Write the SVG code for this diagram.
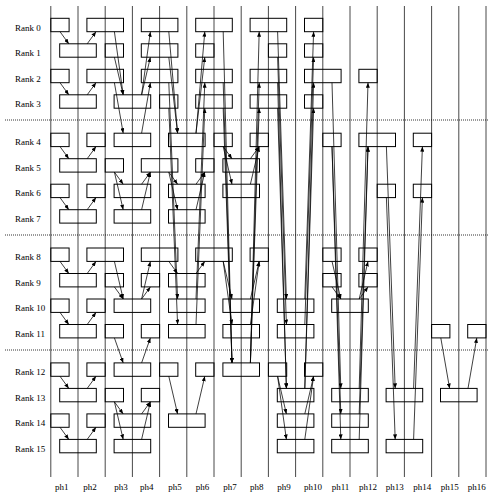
<svg xmlns="http://www.w3.org/2000/svg" width="489" height="496" viewBox="0 0 489 496">
<style>
.ph{stroke:#333;stroke-width:0.9}
.dot{stroke:#000;stroke-width:0.8;stroke-dasharray:1 1}
.b{fill:none;stroke:#000;stroke-width:1}
.a{stroke:#000;stroke-width:0.75;marker-end:url(#ah)}
text{font-family:"Liberation Serif","Times New Roman",serif;font-size:9px;fill:#000}
</style>
<defs>
<marker id="ah" markerUnits="userSpaceOnUse" markerWidth="5" markerHeight="4" refX="5" refY="2" orient="auto">
<path d="M0,0 L5,2 L0,4 z" fill="#000"/>
</marker>
</defs>
<rect width="489" height="496" fill="#fff"/>
<g id="phase-lines">
<line class="ph" x1="50.8" y1="6" x2="50.8" y2="477"/>
<line class="ph" x1="78" y1="6" x2="78" y2="477"/>
<line class="ph" x1="105.2" y1="6" x2="105.2" y2="477"/>
<line class="ph" x1="132.4" y1="6" x2="132.4" y2="477"/>
<line class="ph" x1="159.6" y1="6" x2="159.6" y2="477"/>
<line class="ph" x1="186.8" y1="6" x2="186.8" y2="477"/>
<line class="ph" x1="214" y1="6" x2="214" y2="477"/>
<line class="ph" x1="241.2" y1="6" x2="241.2" y2="477"/>
<line class="ph" x1="268.4" y1="6" x2="268.4" y2="477"/>
<line class="ph" x1="295.6" y1="6" x2="295.6" y2="477"/>
<line class="ph" x1="322.8" y1="6" x2="322.8" y2="477"/>
<line class="ph" x1="350" y1="6" x2="350" y2="477"/>
<line class="ph" x1="377.2" y1="6" x2="377.2" y2="477"/>
<line class="ph" x1="404.4" y1="6" x2="404.4" y2="477"/>
<line class="ph" x1="431.6" y1="6" x2="431.6" y2="477"/>
<line class="ph" x1="458.8" y1="6" x2="458.8" y2="477"/>
<line class="ph" x1="486" y1="6" x2="486" y2="477"/>
<line class="dot" x1="5" y1="120" x2="489" y2="120"/>
<line class="dot" x1="5" y1="235" x2="489" y2="235"/>
<line class="dot" x1="5" y1="350" x2="489" y2="350"/>
</g>
<g id="phase-labels">
<text x="55" y="490">ph1</text>
<text x="83.3" y="490">ph2</text>
<text x="114.3" y="490">ph3</text>
<text x="140" y="490">ph4</text>
<text x="168.3" y="490">ph5</text>
<text x="195.7" y="490">ph6</text>
<text x="223.3" y="490">ph7</text>
<text x="250" y="490">ph8</text>
<text x="277.3" y="490">ph9</text>
<text x="304" y="490">ph10</text>
<text x="331.7" y="490">ph11</text>
<text x="359" y="490">ph12</text>
<text x="385.7" y="490">ph13</text>
<text x="413.3" y="490">ph14</text>
<text x="440.7" y="490">ph15</text>
<text x="467.7" y="490">ph16</text>
</g>
<g id="rank0"><text x="15" y="30.5">Rank 0</text>
<rect class="b" x="50.8" y="18.3" width="18.3" height="13.4"/><rect class="b" x="86.9" y="18.3" width="36.6" height="13.4"/><rect class="b" x="141.3" y="18.3" width="36.6" height="13.4"/><rect class="b" x="195.7" y="18.3" width="36.6" height="13.4"/><rect class="b" x="250.1" y="18.3" width="36.6" height="13.4"/><rect class="b" x="304.5" y="18.3" width="18.3" height="13.4"/></g>
<g id="rank1"><text x="15" y="56">Rank 1</text>
<rect class="b" x="59.7" y="43.8" width="36.6" height="13.4"/><rect class="b" x="105.2" y="43.8" width="18.3" height="13.4"/><rect class="b" x="141.3" y="43.8" width="36.6" height="13.4"/><rect class="b" x="195.7" y="43.8" width="18.3" height="13.4"/><rect class="b" x="268.4" y="43.8" width="18.3" height="13.4"/><rect class="b" x="304.5" y="43.8" width="18.3" height="13.4"/></g>
<g id="rank2"><text x="15" y="81.5">Rank 2</text>
<rect class="b" x="50.8" y="69.3" width="18.3" height="13.4"/><rect class="b" x="86.9" y="69.3" width="36.6" height="13.4"/><rect class="b" x="141.3" y="69.3" width="36.6" height="13.4"/><rect class="b" x="195.7" y="69.3" width="36.6" height="13.4"/><rect class="b" x="250.1" y="69.3" width="36.6" height="13.4"/><rect class="b" x="304.5" y="69.3" width="36.6" height="13.4"/><rect class="b" x="358.9" y="69.3" width="18.3" height="13.4"/></g>
<g id="rank3"><text x="15" y="107">Rank 3</text>
<rect class="b" x="59.7" y="94.8" width="36.6" height="13.4"/><rect class="b" x="114.1" y="94.8" width="36.6" height="13.4"/><rect class="b" x="159.6" y="94.8" width="18.3" height="13.4"/><rect class="b" x="195.7" y="94.8" width="36.6" height="13.4"/><rect class="b" x="250.1" y="94.8" width="36.6" height="13.4"/><rect class="b" x="304.5" y="94.8" width="18.3" height="13.4"/></g>
<g id="rank4"><text x="15" y="145.4">Rank 4</text>
<rect class="b" x="50.8" y="133.2" width="18.3" height="13.4"/><rect class="b" x="86.9" y="133.2" width="18.3" height="13.4"/><rect class="b" x="114.1" y="133.2" width="36.6" height="13.4"/><rect class="b" x="168.5" y="133.2" width="36.6" height="13.4"/><rect class="b" x="214" y="133.2" width="18.3" height="13.4"/><rect class="b" x="250.1" y="133.2" width="18.3" height="13.4"/><rect class="b" x="322.8" y="133.2" width="18.3" height="13.4"/><rect class="b" x="358.9" y="133.2" width="36.6" height="13.4"/><rect class="b" x="413.3" y="133.2" width="18.3" height="13.4"/></g>
<g id="rank5"><text x="15" y="170.9">Rank 5</text>
<rect class="b" x="59.7" y="158.7" width="36.6" height="13.4"/><rect class="b" x="105.2" y="158.7" width="18.3" height="13.4"/><rect class="b" x="141.3" y="158.7" width="36.6" height="13.4"/><rect class="b" x="195.7" y="158.7" width="18.3" height="13.4"/><rect class="b" x="222.9" y="158.7" width="36.6" height="13.4"/></g>
<g id="rank6"><text x="15" y="196.4">Rank 6</text>
<rect class="b" x="50.8" y="184.2" width="18.3" height="13.4"/><rect class="b" x="86.9" y="184.2" width="18.3" height="13.4"/><rect class="b" x="114.1" y="184.2" width="36.6" height="13.4"/><rect class="b" x="168.5" y="184.2" width="36.6" height="13.4"/><rect class="b" x="222.9" y="184.2" width="36.6" height="13.4"/><rect class="b" x="377.2" y="184.2" width="18.3" height="13.4"/><rect class="b" x="413.3" y="184.2" width="18.3" height="13.4"/></g>
<g id="rank7"><text x="15" y="221.9">Rank 7</text>
<rect class="b" x="59.7" y="209.7" width="36.6" height="13.4"/><rect class="b" x="114.1" y="209.7" width="36.6" height="13.4"/><rect class="b" x="168.5" y="209.7" width="36.6" height="13.4"/></g>
<g id="rank8"><text x="15" y="260.2">Rank 8</text>
<rect class="b" x="50.8" y="248" width="18.3" height="13.4"/><rect class="b" x="86.9" y="248" width="36.6" height="13.4"/><rect class="b" x="141.3" y="248" width="36.6" height="13.4"/><rect class="b" x="195.7" y="248" width="36.6" height="13.4"/><rect class="b" x="250.1" y="248" width="18.3" height="13.4"/><rect class="b" x="322.8" y="248" width="18.3" height="13.4"/><rect class="b" x="358.9" y="248" width="18.3" height="13.4"/></g>
<g id="rank9"><text x="15" y="285.7">Rank 9</text>
<rect class="b" x="59.7" y="273.5" width="36.6" height="13.4"/><rect class="b" x="105.2" y="273.5" width="18.3" height="13.4"/><rect class="b" x="141.3" y="273.5" width="18.3" height="13.4"/><rect class="b" x="168.5" y="273.5" width="36.6" height="13.4"/><rect class="b" x="322.8" y="273.5" width="18.3" height="13.4"/><rect class="b" x="358.9" y="273.5" width="18.3" height="13.4"/></g>
<g id="rank10"><text x="15" y="311.2">Rank 10</text>
<rect class="b" x="50.8" y="299" width="18.3" height="13.4"/><rect class="b" x="86.9" y="299" width="18.3" height="13.4"/><rect class="b" x="114.1" y="299" width="36.6" height="13.4"/><rect class="b" x="168.5" y="299" width="36.6" height="13.4"/><rect class="b" x="222.9" y="299" width="36.6" height="13.4"/><rect class="b" x="277.3" y="299" width="36.6" height="13.4"/><rect class="b" x="331.7" y="299" width="36.6" height="13.4"/></g>
<g id="rank11"><text x="15" y="336.7">Rank 11</text>
<rect class="b" x="59.7" y="324.5" width="36.6" height="13.4"/><rect class="b" x="105.2" y="324.5" width="18.3" height="13.4"/><rect class="b" x="141.3" y="324.5" width="18.3" height="13.4"/><rect class="b" x="168.5" y="324.5" width="36.6" height="13.4"/><rect class="b" x="222.9" y="324.5" width="36.6" height="13.4"/><rect class="b" x="277.3" y="324.5" width="36.6" height="13.4"/><rect class="b" x="431.6" y="324.5" width="18.3" height="13.4"/><rect class="b" x="467.7" y="324.5" width="18.3" height="13.4"/></g>
<g id="rank12"><text x="15" y="375.1">Rank 12</text>
<rect class="b" x="50.8" y="362.9" width="18.3" height="13.4"/><rect class="b" x="86.9" y="362.9" width="18.3" height="13.4"/><rect class="b" x="114.1" y="362.9" width="36.6" height="13.4"/><rect class="b" x="159.6" y="362.9" width="18.3" height="13.4"/><rect class="b" x="195.7" y="362.9" width="18.3" height="13.4"/><rect class="b" x="222.9" y="362.9" width="36.6" height="13.4"/><rect class="b" x="268.4" y="362.9" width="18.3" height="13.4"/><rect class="b" x="304.5" y="362.9" width="18.3" height="13.4"/></g>
<g id="rank13"><text x="15" y="400.6">Rank 13</text>
<rect class="b" x="59.7" y="388.4" width="36.6" height="13.4"/><rect class="b" x="105.2" y="388.4" width="18.3" height="13.4"/><rect class="b" x="141.3" y="388.4" width="18.3" height="13.4"/><rect class="b" x="277.3" y="388.4" width="36.6" height="13.4"/><rect class="b" x="331.7" y="388.4" width="36.6" height="13.4"/><rect class="b" x="386.1" y="388.4" width="36.6" height="13.4"/><rect class="b" x="440.5" y="388.4" width="36.6" height="13.4"/></g>
<g id="rank14"><text x="15" y="426.1">Rank 14</text>
<rect class="b" x="50.8" y="413.9" width="18.3" height="13.4"/><rect class="b" x="86.9" y="413.9" width="18.3" height="13.4"/><rect class="b" x="114.1" y="413.9" width="36.6" height="13.4"/><rect class="b" x="168.5" y="413.9" width="36.6" height="13.4"/><rect class="b" x="277.3" y="413.9" width="36.6" height="13.4"/><rect class="b" x="331.7" y="413.9" width="36.6" height="13.4"/></g>
<g id="rank15"><text x="15" y="451.6">Rank 15</text>
<rect class="b" x="59.7" y="439.4" width="36.6" height="13.4"/><rect class="b" x="114.1" y="439.4" width="36.6" height="13.4"/><rect class="b" x="277.3" y="439.4" width="36.6" height="13.4"/><rect class="b" x="331.7" y="439.4" width="36.6" height="13.4"/><rect class="b" x="386.1" y="439.4" width="36.6" height="13.4"/></g>
<g id="connectors">
<line class="a" x1="60" y1="31.7" x2="68.8" y2="43.8"/>
<line class="a" x1="60" y1="82.7" x2="68.8" y2="94.8"/>
<line class="a" x1="60" y1="146.6" x2="68.8" y2="158.7"/>
<line class="a" x1="60" y1="197.6" x2="68.8" y2="209.7"/>
<line class="a" x1="60" y1="261.4" x2="68.8" y2="273.5"/>
<line class="a" x1="60" y1="312.4" x2="68.8" y2="324.5"/>
<line class="a" x1="60" y1="376.3" x2="68.8" y2="388.4"/>
<line class="a" x1="60" y1="427.3" x2="68.8" y2="439.4"/>
<line class="a" x1="87.2" y1="43.8" x2="96" y2="31.7"/>
<line class="a" x1="87.2" y1="94.8" x2="96" y2="82.7"/>
<line class="a" x1="87.2" y1="158.7" x2="96" y2="146.6"/>
<line class="a" x1="87.2" y1="209.7" x2="96" y2="197.6"/>
<line class="a" x1="87.2" y1="273.5" x2="96" y2="261.4"/>
<line class="a" x1="87.2" y1="324.5" x2="96" y2="312.4"/>
<line class="a" x1="87.2" y1="388.4" x2="96" y2="376.3"/>
<line class="a" x1="87.2" y1="439.4" x2="96" y2="427.3"/>
<line class="a" x1="114.4" y1="31.7" x2="123.2" y2="94.8"/>
<line class="a" x1="114.4" y1="57.2" x2="123.2" y2="94.8"/>
<line class="a" x1="114.4" y1="82.7" x2="123.2" y2="133.2"/>
<line class="a" x1="114.4" y1="172.1" x2="123.2" y2="184.2"/>
<line class="a" x1="114.4" y1="172.1" x2="123.2" y2="209.7"/>
<line class="a" x1="114.4" y1="261.4" x2="123.2" y2="299"/>
<line class="a" x1="114.4" y1="286.9" x2="123.2" y2="299"/>
<line class="a" x1="114.4" y1="337.9" x2="123.2" y2="362.9"/>
<line class="a" x1="114.4" y1="401.8" x2="123.2" y2="413.9"/>
<line class="a" x1="114.4" y1="401.8" x2="123.2" y2="439.4"/>
<line class="a" x1="141.6" y1="94.8" x2="150.4" y2="31.7"/>
<line class="a" x1="141.6" y1="94.8" x2="150.4" y2="57.2"/>
<line class="a" x1="141.6" y1="133.2" x2="150.4" y2="82.7"/>
<line class="a" x1="141.6" y1="184.2" x2="150.4" y2="172.1"/>
<line class="a" x1="141.6" y1="209.7" x2="150.4" y2="172.1"/>
<line class="a" x1="141.6" y1="299" x2="150.4" y2="261.4"/>
<line class="a" x1="141.6" y1="299" x2="150.4" y2="286.9"/>
<line class="a" x1="141.6" y1="362.9" x2="150.4" y2="337.9"/>
<line class="a" x1="141.6" y1="413.9" x2="150.4" y2="401.8"/>
<line class="a" x1="141.6" y1="439.4" x2="150.4" y2="401.8"/>
<line class="a" x1="168.8" y1="31.7" x2="177.6" y2="133.2"/>
<line class="a" x1="168.8" y1="57.2" x2="177.6" y2="133.2"/>
<line class="a" x1="168.8" y1="82.7" x2="177.6" y2="299"/>
<line class="a" x1="168.8" y1="108.2" x2="177.6" y2="324.5"/>
<line class="a" x1="168.8" y1="172.1" x2="177.6" y2="184.2"/>
<line class="a" x1="168.8" y1="172.1" x2="177.6" y2="209.7"/>
<line class="a" x1="168.8" y1="261.4" x2="177.6" y2="273.5"/>
<line class="a" x1="168.8" y1="376.3" x2="177.6" y2="413.9"/>
<line class="a" x1="196" y1="133.2" x2="204.8" y2="31.7"/>
<line class="a" x1="196" y1="133.2" x2="204.8" y2="57.2"/>
<line class="a" x1="196" y1="299" x2="204.8" y2="82.7"/>
<line class="a" x1="196" y1="324.5" x2="204.8" y2="108.2"/>
<line class="a" x1="196" y1="184.2" x2="204.8" y2="172.1"/>
<line class="a" x1="196" y1="209.7" x2="204.8" y2="172.1"/>
<line class="a" x1="196" y1="273.5" x2="204.8" y2="261.4"/>
<line class="a" x1="196" y1="413.9" x2="204.8" y2="376.3"/>
<line class="a" x1="223.2" y1="146.6" x2="232" y2="158.7"/>
<line class="a" x1="223.2" y1="146.6" x2="232" y2="184.2"/>
<line class="a" x1="223.2" y1="261.4" x2="232" y2="299"/>
<line class="a" x1="223.2" y1="261.4" x2="232" y2="324.5"/>
<line class="a" x1="223.2" y1="31.7" x2="232" y2="362.9"/>
<line class="a" x1="223.2" y1="82.7" x2="232" y2="362.9"/>
<line class="a" x1="223.2" y1="108.2" x2="232" y2="362.9"/>
<line class="a" x1="250.4" y1="158.7" x2="259.2" y2="146.6"/>
<line class="a" x1="250.4" y1="184.2" x2="259.2" y2="146.6"/>
<line class="a" x1="250.4" y1="299" x2="259.2" y2="261.4"/>
<line class="a" x1="250.4" y1="324.5" x2="259.2" y2="261.4"/>
<line class="a" x1="250.4" y1="362.9" x2="259.2" y2="31.7"/>
<line class="a" x1="250.4" y1="362.9" x2="259.2" y2="82.7"/>
<line class="a" x1="250.4" y1="362.9" x2="259.2" y2="108.2"/>
<line class="a" x1="277.6" y1="376.3" x2="286.4" y2="413.9"/>
<line class="a" x1="277.6" y1="376.3" x2="286.4" y2="439.4"/>
<line class="a" x1="277.6" y1="31.7" x2="286.4" y2="299"/>
<line class="a" x1="277.6" y1="57.2" x2="286.4" y2="324.5"/>
<line class="a" x1="277.6" y1="82.7" x2="286.4" y2="388.4"/>
<line class="a" x1="277.6" y1="108.2" x2="286.4" y2="388.4"/>
<line class="a" x1="304.8" y1="413.9" x2="313.6" y2="376.3"/>
<line class="a" x1="304.8" y1="439.4" x2="313.6" y2="376.3"/>
<line class="a" x1="304.8" y1="299" x2="313.6" y2="31.7"/>
<line class="a" x1="304.8" y1="324.5" x2="313.6" y2="57.2"/>
<line class="a" x1="304.8" y1="388.4" x2="313.6" y2="82.7"/>
<line class="a" x1="304.8" y1="388.4" x2="313.6" y2="108.2"/>
<line class="a" x1="332" y1="261.4" x2="340.8" y2="299"/>
<line class="a" x1="332" y1="286.9" x2="340.8" y2="299"/>
<line class="a" x1="332" y1="82.7" x2="340.8" y2="388.4"/>
<line class="a" x1="332" y1="146.6" x2="340.8" y2="413.9"/>
<line class="a" x1="332" y1="146.6" x2="340.8" y2="439.4"/>
<line class="a" x1="359.2" y1="299" x2="368" y2="261.4"/>
<line class="a" x1="359.2" y1="299" x2="368" y2="286.9"/>
<line class="a" x1="359.2" y1="388.4" x2="368" y2="82.7"/>
<line class="a" x1="359.2" y1="413.9" x2="368" y2="146.6"/>
<line class="a" x1="359.2" y1="439.4" x2="368" y2="146.6"/>
<line class="a" x1="386.4" y1="146.6" x2="395.2" y2="388.4"/>
<line class="a" x1="386.4" y1="197.6" x2="395.2" y2="439.4"/>
<line class="a" x1="413.6" y1="388.4" x2="422.4" y2="146.6"/>
<line class="a" x1="413.6" y1="439.4" x2="422.4" y2="197.6"/>
<line class="a" x1="440.8" y1="337.9" x2="449.6" y2="388.4"/>
<line class="a" x1="468" y1="388.4" x2="476.8" y2="337.9"/>
</g>
</svg>
